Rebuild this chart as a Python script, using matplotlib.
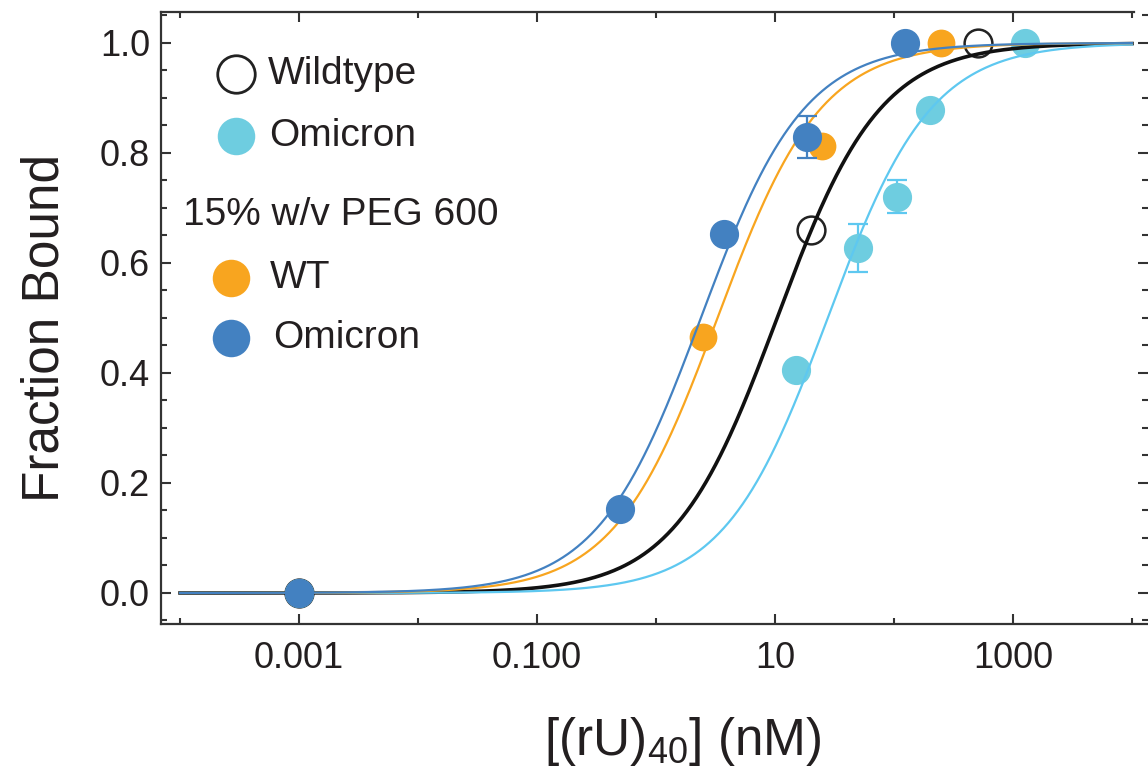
import numpy as np
import matplotlib
matplotlib.use("Agg")
import matplotlib.pyplot as plt
from matplotlib.ticker import FixedLocator, MultipleLocator, NullFormatter, FixedFormatter

plt.rcParams["font.family"] = ["Liberation Sans", "DejaVu Sans"]
plt.rcParams["mathtext.fontset"] = "custom"
plt.rcParams["mathtext.rm"] = "Liberation Sans"
plt.rcParams["mathtext.it"] = "Liberation Sans"
plt.rcParams["mathtext.bf"] = "Liberation Sans"

# data (x in nM)
wt_x = [0.001, 20.1, 508]
wt_y = [0.0, 0.66, 1.0]

omi_x = [0.001, 15.0, 49.8, 106, 201, 1262]
omi_y = [0.0, 0.405, 0.627, 0.72, 0.878, 1.0]
omi_err = [0.0, 0.0, 0.043, 0.03, 0.0, 0.0]

peg_wt_x = [0.001, 2.48, 24.8, 248]
peg_wt_y = [0.0, 0.465, 0.813, 1.0]

peg_omi_x = [0.001, 0.497, 3.73, 18.6, 124]
peg_omi_y = [0.0, 0.153, 0.653, 0.829, 1.0]
peg_omi_err = [0.0, 0.0, 0.015, 0.038, 0.0]

# fitted Kd (nM) of single site binding curves
kd_wt, kd_omi, kd_peg_wt, kd_peg_omi = 10.4, 27.7, 3.28, 2.38

c_black = "#111111"
c_cyan_pt = "#6ECDE0"
c_cyan_ln = "#5EC8F0"
c_orange = "#F8A51F"
c_blue = "#4381C1"
txt = "#231F20"

fig = plt.figure(figsize=(11.48, 7.81), dpi=100)
ax = fig.add_axes([161 / 1148, (781 - 624) / 781, 987 / 1148, 611.7 / 781])

xs = np.logspace(-4, 4, 600)


def bound(x, kd):
    return x / (x + kd)


ms = 20
ax.plot(wt_x, wt_y, "o", ms=ms, mfc="none", mec="#222222", mew=1.8, zorder=3)
ax.errorbar(omi_x, omi_y, yerr=omi_err, fmt="o", ms=ms, mfc=c_cyan_pt, mec=c_cyan_pt,
            ecolor=c_cyan_ln, elinewidth=1.6, capsize=7, capthick=1.6, zorder=3)
ax.plot(xs, bound(xs, kd_wt), color=c_black, lw=2.6, zorder=4)
ax.plot(xs, bound(xs, kd_omi), color=c_cyan_ln, lw=1.6, zorder=4)
ax.plot(peg_wt_x, peg_wt_y, "o", ms=ms, color=c_orange, mew=0, zorder=5)
ax.plot(xs, bound(xs, kd_peg_wt), color=c_orange, lw=1.6, zorder=6)
ax.plot(xs, bound(xs, kd_peg_omi), color=c_blue, lw=1.6, zorder=6)
ax.errorbar(peg_omi_x, peg_omi_y, yerr=peg_omi_err, fmt="o", ms=ms, mfc=c_blue, mec=c_blue,
            ecolor=c_blue, elinewidth=1.6, capsize=7, capthick=1.6, zorder=7)

ax.set_xscale("log")
ax.set_xlim(10 ** -4.16, 10 ** 4.134)
ax.set_ylim(-0.0564, 1.0558)

ax.xaxis.set_major_locator(FixedLocator([1e-3, 1e-1, 1e1, 1e3]))
ax.xaxis.set_major_formatter(FixedFormatter(["0.001", "0.100", "10", "1000"]))
ax.xaxis.set_minor_locator(FixedLocator([1e-4, 1e-2, 1, 1e2, 1e4]))
ax.xaxis.set_minor_formatter(NullFormatter())
ax.yaxis.set_major_locator(MultipleLocator(0.2))
ax.yaxis.set_minor_locator(MultipleLocator(0.05))
ax.yaxis.set_major_formatter(plt.FuncFormatter(lambda v, p: f"{v:.1f}"))

ax.tick_params(which="both", direction="in", top=True, right=True, width=1.5,
               color="#333333", labelsize=26, labelcolor=txt)
ax.tick_params(which="major", length=7.5)
ax.tick_params(which="minor", length=4.5)
ax.tick_params(axis="x", pad=12)
ax.tick_params(axis="y", pad=8)

for s in ax.spines.values():
    s.set_linewidth(1.6)
    s.set_color("#333333")
ax.spines["right"].set_visible(False)
ax.spines["top"].set_bounds(10 ** -4.16, 10 ** 4.02)

# legend drawn by hand
ax.plot([0.076], [0.899], "o", ms=27, mfc="none", mec="#222222", mew=2, transform=ax.transAxes, clip_on=False)
ax.text(0.1084, 0.899, "Wildtype", fontsize=28, color=txt, va="center", transform=ax.transAxes)
ax.plot([0.076], [0.798], "o", ms=27, color=c_cyan_pt, mew=0, transform=ax.transAxes)
ax.text(0.110, 0.798, "Omicron", fontsize=28, color=txt, va="center", transform=ax.transAxes)
ax.text(0.0223, 0.669, "15% w/v PEG 600", fontsize=28, color=txt, va="center", transform=ax.transAxes)
ax.plot([0.0709], [0.566], "o", ms=27, color=c_orange, mew=0, transform=ax.transAxes)
ax.text(0.110, 0.566, "WT", fontsize=28, color=txt, va="center", transform=ax.transAxes)
ax.plot([0.0709], [0.468], "o", ms=27, color=c_blue, mew=0, transform=ax.transAxes)
ax.text(0.1135, 0.468, "Omicron", fontsize=28, color=txt, va="center", transform=ax.transAxes)

fig.text(683 / 1148, 1 - 742 / 781, r"[(rU)$_{40}$] (nM)", fontsize=37, color=txt,
         ha="center", va="center")
fig.text(45 / 1148, 1 - 328 / 781, "Fraction Bound", fontsize=37, color=txt,
         ha="center", va="center", rotation=90)

fig.savefig("out.png", dpi=100)
